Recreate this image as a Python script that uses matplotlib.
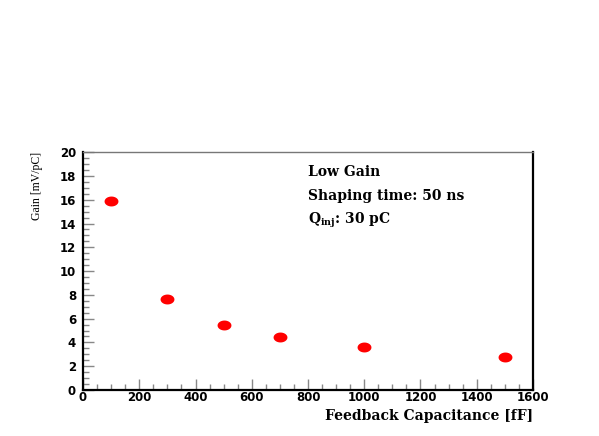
import numpy as np
import matplotlib
matplotlib.use("Agg")
import matplotlib.pyplot as plt
from matplotlib.ticker import MultipleLocator

# data
capacitance = [100, 300, 500, 700, 1000, 1500]   # fF
gain = [15.9, 7.65, 5.47, 4.48, 3.58, 2.80]      # mV/pC

x_ticks = [0, 200, 400, 600, 800, 1000, 1200, 1400, 1600]
y_ticks = [0, 2, 4, 6, 8, 10, 12, 14, 16, 18, 20]

info_lines = ["Low Gain", "Shaping time: 50 ns", r"Q$_{\mathbf{inj}}$: 30 pC"]

plt.rcParams["mathtext.fontset"] = "dejavuserif"

fig = plt.figure(figsize=(5.99, 4.36), dpi=100)
ax = fig.add_axes([0.1386, 0.1055, 0.7512, 0.5455])

# ROOT style wide ellipse marker
t = np.linspace(0, 2 * np.pi, 40)
ellipse = np.column_stack([1.4 * np.cos(t), np.sin(t)])
ax.plot(capacitance, gain, linestyle="none", marker=ellipse,
        markersize=10, color="red", markeredgewidth=0)

ax.set_xlim(0, 1600)
ax.set_ylim(0, 20)
ax.set_xticks(x_ticks)
ax.set_yticks(y_ticks)
ax.xaxis.set_minor_locator(MultipleLocator(50))
ax.yaxis.set_minor_locator(MultipleLocator(0.5))
ax.tick_params(which="both", direction="in", top=False, right=False,
               color="#888888")
ax.tick_params(which="major", length=8, width=1)
ax.tick_params(which="minor", length=4, width=1)
ax.tick_params(axis="x", pad=1)
ax.tick_params(axis="y", pad=5)
for lab in ax.get_xticklabels() + ax.get_yticklabels():
    lab.set_fontfamily("DejaVu Sans")
    lab.set_fontweight("bold")
    lab.set_fontsize(8.5)

ax.spines["left"].set_linewidth(1.6)
ax.spines["bottom"].set_linewidth(1.6)
ax.spines["right"].set_linewidth(1.6)
ax.spines["top"].set_linewidth(1.0)
ax.spines["top"].set_color("#777777")

ax.set_xlabel("Feedback Capacitance [fF]", fontfamily="DejaVu Serif",
              fontweight="bold", fontsize=10, loc="right", labelpad=3)
ax.set_ylabel("Gain [mV/pC]", fontfamily="Liberation Serif",
              fontsize=8.5, loc="top", labelpad=12)

ys = [0.916, 0.815, 0.714]
for txt, yy in zip(info_lines, ys):
    ax.text(0.5, yy, txt, transform=ax.transAxes, fontfamily="DejaVu Serif",
            fontweight="bold", fontsize=10, va="center", ha="left")

fig.savefig("out.png", dpi=100)
